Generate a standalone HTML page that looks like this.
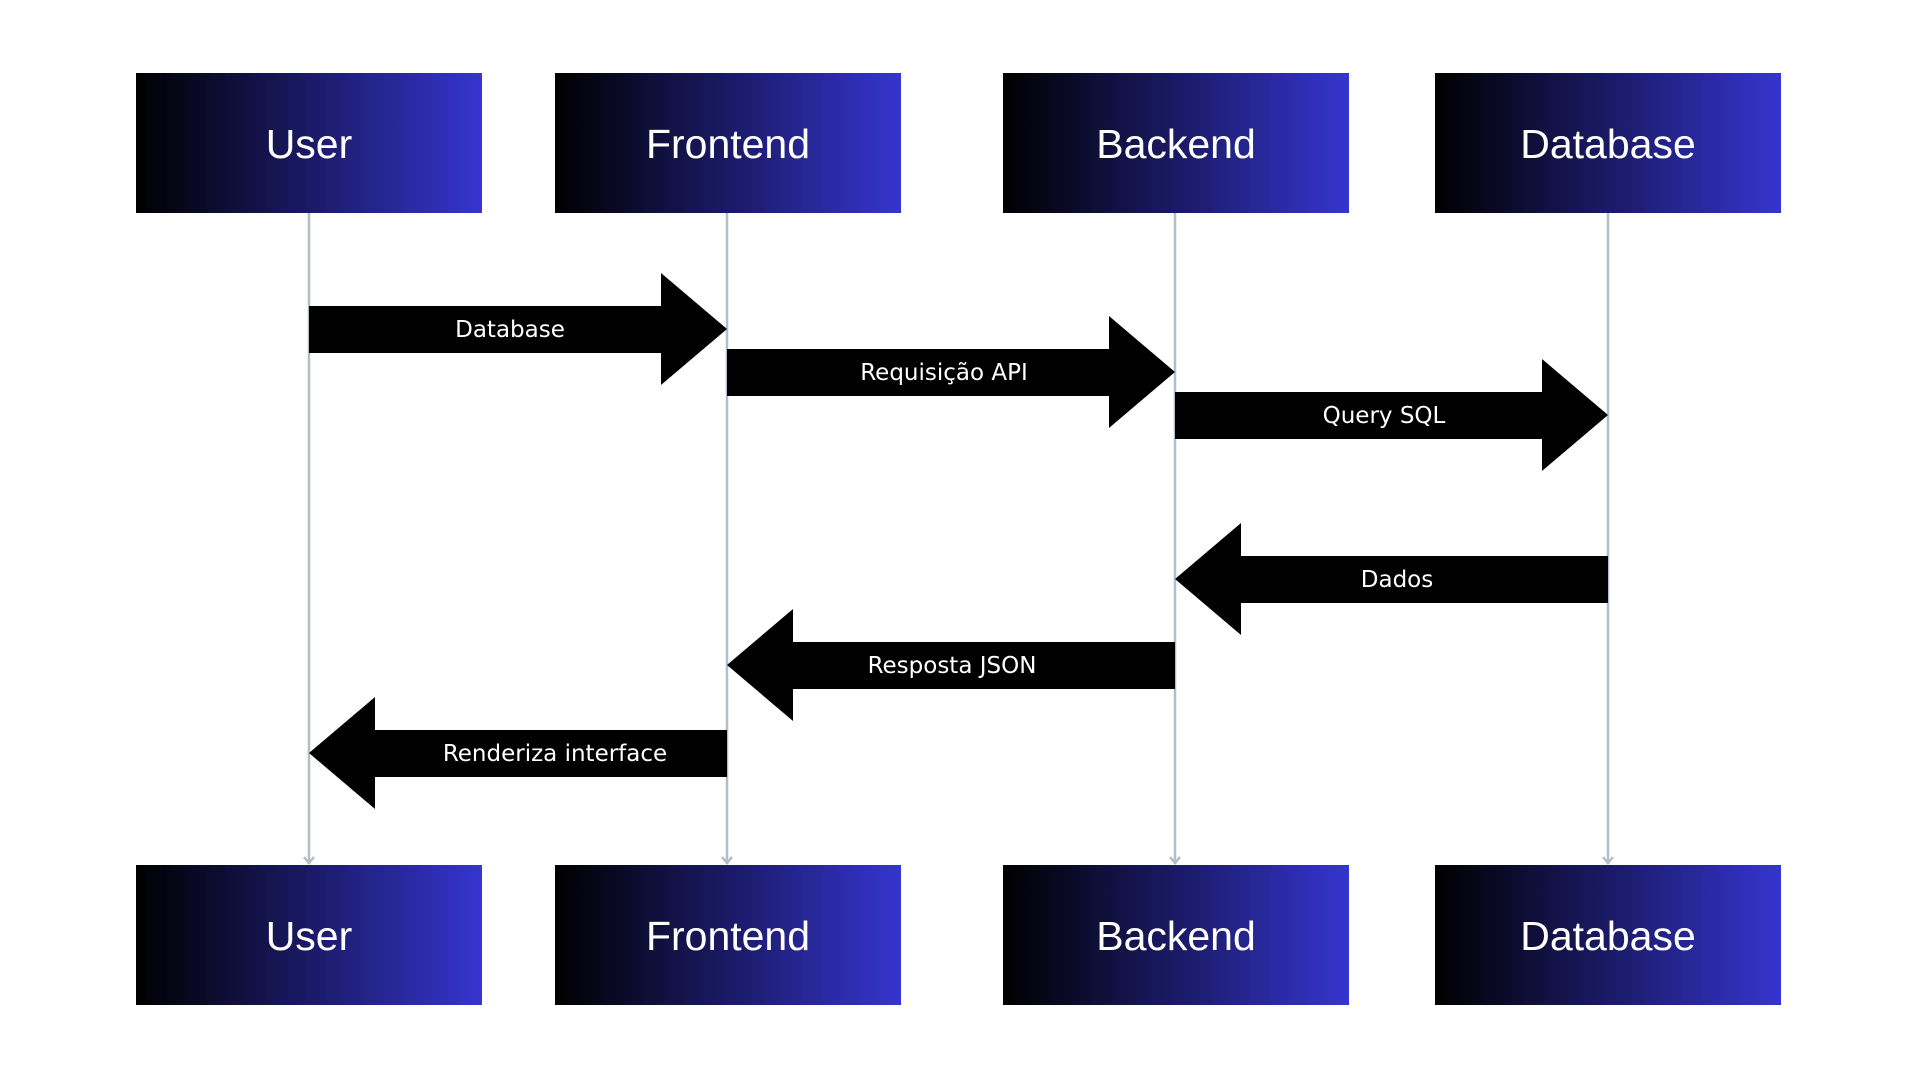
<!DOCTYPE html>
<html><head><meta charset="utf-8"><style>
html,body{margin:0;padding:0;background:#fff;width:1920px;height:1080px;overflow:hidden}
</style></head><body>
<svg width="1920" height="1080" viewBox="0 0 1920 1080" xmlns="http://www.w3.org/2000/svg" font-family="'Liberation Sans', 'DejaVu Sans', sans-serif">
<defs>
<linearGradient id="g" x1="0" y1="0" x2="1" y2="0">
<stop offset="0" stop-color="#000000"/>
<stop offset="0.5" stop-color="#1a1a66"/>
<stop offset="1" stop-color="#3535cf"/>
</linearGradient>
</defs>
<g stroke="#b4bcc4" stroke-width="2.5" fill="none">
<line x1="309" y1="213" x2="309" y2="864"/>
<line x1="727" y1="213" x2="727" y2="864"/>
<line x1="1175" y1="213" x2="1175" y2="864"/>
<line x1="1608" y1="213" x2="1608" y2="864"/>
<polyline points="304,857 309,863 314,857"/>
<polyline points="722,857 727,863 732,857"/>
<polyline points="1170,857 1175,863 1180,857"/>
<polyline points="1603,857 1608,863 1613,857"/>
</g>
<g fill="url(#g)">
<rect x="136" y="73" width="346" height="140"/>
<rect x="555" y="73" width="346" height="140"/>
<rect x="1003" y="73" width="346" height="140"/>
<rect x="1435" y="73" width="346" height="140"/>
<rect x="136" y="865" width="346" height="140"/>
<rect x="555" y="865" width="346" height="140"/>
<rect x="1003" y="865" width="346" height="140"/>
<rect x="1435" y="865" width="346" height="140"/>
</g>
<g fill="#fff" font-size="41" text-anchor="middle">
<text x="309" y="158">User</text>
<text x="728" y="158">Frontend</text>
<text x="1176" y="158">Backend</text>
<text x="1608" y="158">Database</text>
<text x="309" y="950">User</text>
<text x="728" y="950">Frontend</text>
<text x="1176" y="950">Backend</text>
<text x="1608" y="950">Database</text>
</g>
<g fill="#000">
<polygon points="309,306 661,306 661,273 727,329 661,385 661,353 309,353"/>
<polygon points="727,349 1109,349 1109,316 1175,372 1109,428 1109,396 727,396"/>
<polygon points="1175,392 1542,392 1542,359 1608,415 1542,471 1542,439 1175,439"/>
<polygon points="1608,556 1241,556 1241,523 1175,579 1241,635 1241,603 1608,603"/>
<polygon points="1175,642 793,642 793,609 727,665 793,721 793,689 1175,689"/>
<polygon points="727,730 375,730 375,697 309,753 375,809 375,777 727,777"/>
</g>
<g fill="#fff" font-size="23" text-anchor="middle" font-family="'DejaVu Sans', sans-serif">
<text x="510" y="337">Database</text>
<text x="944" y="380">Requisição API</text>
<text x="1384" y="423">Query SQL</text>
<text x="1397" y="587">Dados</text>
<text x="952" y="673">Resposta JSON</text>
<text x="555" y="761">Renderiza interface</text>
</g>
</svg>
</body></html>
